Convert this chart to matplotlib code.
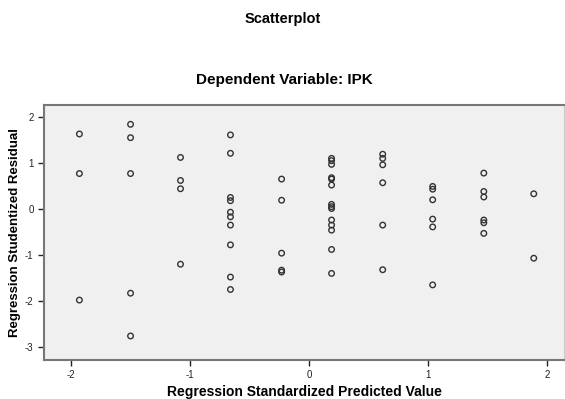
import matplotlib
matplotlib.use("Agg")
import matplotlib.pyplot as plt
import numpy as np

# predicted value columns and the studentized residuals
pred_cols = [-1.93, -1.50, -1.08, -0.66, -0.23, 0.19, 0.62, 1.04, 1.47, 1.89]
resid = [
    [1.63, 0.77, -1.98],
    [1.84, 1.55, 0.77, -1.83, -2.76],
    [1.12, 0.62, 0.44, -1.20],
    [1.61, 1.21, 0.25, 0.18, -0.07, -0.17, -0.35, -0.78, -1.48, -1.75],
    [0.65, 0.19, -0.96, -1.33, -1.37],
    [1.10, 1.05, 0.97, 0.68, 0.65, 0.52, 0.10, 0.05, 0.01, -0.24, -0.35, -0.46, -0.88, -1.40],
    [1.19, 1.10, 0.96, 0.57, -0.35, -1.32],
    [0.49, 0.43, 0.20, -0.22, -0.39, -1.65],
    [0.78, 0.38, 0.26, -0.24, -0.30, -0.53],
    [0.33, -1.07],
]
xticks = [-2, -1, 0, 1, 2]
yticks = [-3, -2, -1, 0, 1, 2]

x = []
y = []
for px, col in zip(pred_cols, resid):
    for r in col:
        x.append(px)
        y.append(r)

plt.rcParams['font.family'] = ['Liberation Sans', 'DejaVu Sans']
plt.rcParams['axes.unicode_minus'] = False

fig = plt.figure(figsize=(5.65, 3.99), dpi=100)
ax = fig.add_axes([0.078, 0.098, 0.92, 0.640])
ax.set_facecolor('#f0f0f0')

ax.scatter(x, y, s=16, facecolors='none', edgecolors='#333333', linewidths=1.0)

ax.set_xlim(-2.227, 2.143)
ax.set_ylim(-3.28, 2.27)
ax.set_xticks(xticks)
ax.set_yticks(yticks)
ax.tick_params(labelsize=7, colors='#222222', length=4, width=1)

for side in ['top', 'bottom', 'left']:
    ax.spines[side].set_color('#777777')
    ax.spines[side].set_linewidth(1.5)
ax.spines['right'].set_color('#cccccc')

ax.set_xlabel("Regression Standardized Predicted Value", fontsize=10, fontweight='bold', labelpad=3.5)
ax.set_ylabel("Regression Studentized Residual", fontsize=9.5, fontweight='bold', labelpad=3)

fig.text(0.5, 0.953, "Scatterplot", ha='center', va='center', fontsize=10.5, fontweight='bold')
fig.text(0.503, 0.80, "Dependent Variable: IPK", ha='center', va='center', fontsize=11, fontweight='bold')

fig.savefig("out.png", dpi=100)
